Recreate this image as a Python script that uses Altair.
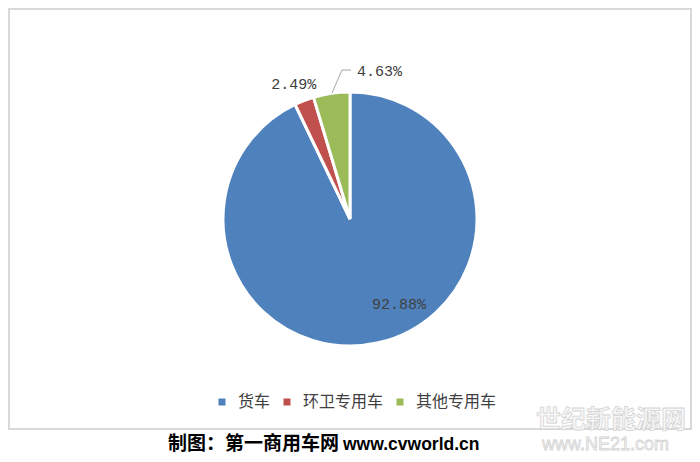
import math
import altair as alt
import pandas as pd

# ---- data ----
categories = ["货车", "环卫专用车", "其他专用车"]
values = [92.88, 2.49, 4.63]
labels = ["92.88%", "2.49%", "4.63%"]
colors = ["#4F81BD", "#C0504D", "#9BBB59"]
caption_cn = "制图：第一商用车网"
caption_url = "www.cvworld.cn"
watermark_cn = "世纪新能源网"
watermark_url = "www.NE21.com"

df = pd.DataFrame({"cat": categories, "val": values, "label": labels,
                   "order": list(range(len(categories)))})

W, H = 684, 446
CX, CY = 342, 211
R = 127

frame = alt.Chart(pd.DataFrame({"a": [0]})).mark_rect(
    fillOpacity=0, stroke="#d9d9d9", strokeWidth=2
).encode(x=alt.value(1), x2=alt.value(683), y=alt.value(1), y2=alt.value(421))

pie = alt.Chart(df).mark_arc(radius=R, stroke="white", strokeWidth=3).encode(
    theta=alt.Theta("val:Q", stack=True, scale=alt.Scale(domain=[0, 100])),
    order=alt.Order("order:Q"),
    color=alt.Color(
        "cat:N",
        sort=categories,
        scale=alt.Scale(domain=categories, range=colors),
        legend=alt.Legend(
            orient="none", legendX=206, legendY=386, direction="horizontal",
            title=None, symbolType="square", symbolSize=49, symbolStrokeWidth=0,
            labelFont="Noto Sans CJK SC", labelFontSize=16, labelColor="#404040",
            labelOffset=8, columnPadding=8, padding=0,
        ),
    ),
    x=alt.value(CX),
    y=alt.value(CY),
)

# label placement styles: (radius, dx, dy)
label_styles = {"货车": (95, 28, -8), "环卫专用车": (145, -4, 0), "其他专用车": (148, 51, -2)}

text_layers = []
for cat in categories:
    rr, ddx, ddy = label_styles[cat]
    t = alt.Chart(df).transform_window(
        cum="sum(val)", sort=[alt.SortField("order")], frame=[None, 0]
    ).transform_calculate(
        mid="datum.cum - datum.val / 2"
    ).transform_filter(
        alt.datum.cat == cat
    ).mark_text(
        font="Liberation Mono", fontSize=15, color="#404040",
        align="center", baseline="middle", dx=ddx, dy=ddy,
    ).encode(
        theta=alt.Theta("mid:Q", scale=alt.Scale(domain=[0, 100])),
        radius=alt.value(rr),
        text="label:N",
        x=alt.value(CX),
        y=alt.value(CY),
    )
    text_layers.append(t)

leader_df = pd.DataFrame({"a": [0]})
leader1 = alt.Chart(leader_df).mark_rule(color="#a6a6a6", strokeWidth=1).encode(
    x=alt.value(324), y=alt.value(85), x2=alt.value(334), y2=alt.value(62))
leader2 = alt.Chart(leader_df).mark_rule(color="#a6a6a6", strokeWidth=1).encode(
    x=alt.value(334), y=alt.value(62), x2=alt.value(343), y2=alt.value(62))

wm1 = alt.Chart(pd.DataFrame({"t": [watermark_cn]})).mark_text(
    font="Noto Sans CJK SC", fontSize=25, fontWeight="bold", fill="#f7f7f7",
    stroke="#d4d4d4", strokeWidth=0.8, align="left", baseline="middle"
).encode(text="t:N", x=alt.value(528), y=alt.value(412))
wm2 = alt.Chart(pd.DataFrame({"t": [watermark_url]})).mark_text(
    font="Liberation Sans", fontSize=18, fill="#f7f7f7",
    stroke="#d4d4d4", strokeWidth=0.8, align="left", baseline="middle"
).encode(text="t:N", x=alt.value(534), y=alt.value(437))

cap1 = alt.Chart(pd.DataFrame({"t": [caption_cn]})).mark_text(
    font="Noto Sans CJK SC", fontSize=19, fontWeight="bold", color="#000000",
    align="right", baseline="middle"
).encode(text="t:N", x=alt.value(331), y=alt.value(436))
cap2 = alt.Chart(pd.DataFrame({"t": [caption_url]})).mark_text(
    font="Liberation Sans", fontSize=17.5, fontWeight="bold", color="#000000",
    align="left", baseline="middle"
).encode(text="t:N", x=alt.value(335), y=alt.value(437))

chart = alt.layer(
    frame, wm1, wm2, pie, *text_layers, leader1, leader2, cap1, cap2
).resolve_scale(theta="independent").properties(
    width=W, height=H, autosize="none", padding=0
).configure_view(stroke=None)

chart.save("out.html", embed_options={"renderer": "svg", "actions": False})
